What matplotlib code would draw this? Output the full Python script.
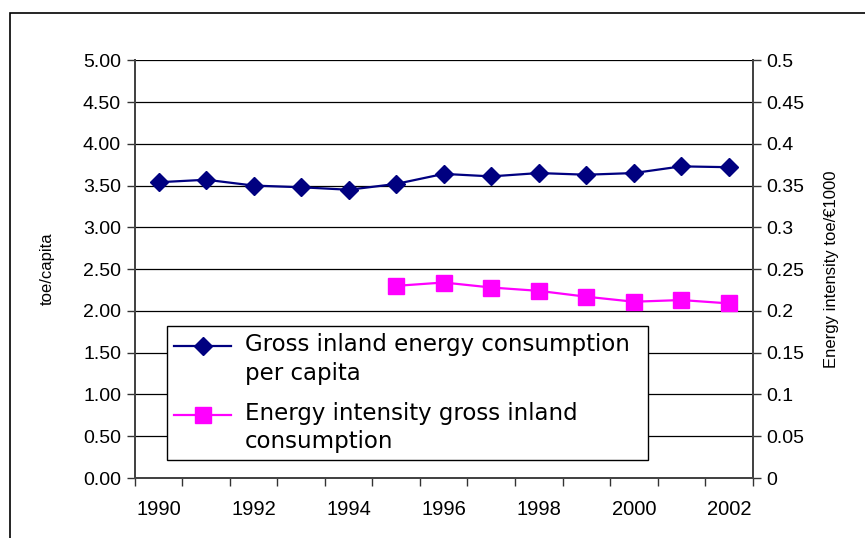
import numpy as np
import matplotlib.pyplot as plt
from matplotlib.patches import Rectangle
from matplotlib.legend_handler import HandlerLine2D

# data
years = [1990, 1991, 1992, 1993, 1994, 1995, 1996, 1997, 1998, 1999, 2000, 2001, 2002]
gross_per_capita = [3.54, 3.57, 3.50, 3.48, 3.45, 3.52, 3.64, 3.61, 3.65, 3.63, 3.65, 3.73, 3.72]
intensity = [np.nan, np.nan, np.nan, np.nan, np.nan, 0.230, 0.234, 0.228, 0.224, 0.217, 0.211, 0.213, 0.209]
year_labels = ["1990", "1992", "1994", "1996", "1998", "2000", "2002"]

plt.rcParams['font.family'] = ['Liberation Sans', 'DejaVu Sans']


class FirstLineHandler(HandlerLine2D):
    """legend handle drawn level with the first line of a two-line label"""
    def create_artists(self, legend, orig_handle, xdescent, ydescent, width, height, fontsize, trans):
        artists = super().create_artists(legend, orig_handle, xdescent, ydescent,
                                         width, height, fontsize, trans)
        for a in artists:
            a.set_ydata(np.asarray(a.get_ydata()) + 0.6 * fontsize)
        return artists


#creation of the figure
fig, ax = plt.subplots(figsize=(8.65, 5.38), dpi=100)
fig.subplots_adjust(left=0.156, right=0.870, top=0.888, bottom=0.1115)
ax2 = ax.twinx()

x = np.arange(len(years))
l1, = ax.plot(x, gross_per_capita, color="#000080", lw=1.6, marker="D", ms=9.5,
              label="Gross inland energy consumption\nper capita", zorder=5)
l2, = ax2.plot(x, intensity, color="#FF00FF", lw=1.6, marker="s", ms=11,
               label="Energy intensity gross inland\nconsumption", zorder=5)

#axes limits and ticks
ax.set_xlim(-0.5, len(years) - 0.5)
ax.set_ylim(0, 5)
ax2.set_ylim(0, 0.5)
ax.set_yticks(np.arange(0, 5.01, 0.5))
ax.set_yticklabels(["%.2f" % v for v in np.arange(0, 5.01, 0.5)])
ax2.set_yticks(np.arange(0, 0.501, 0.05))
ax2.set_yticklabels(["%g" % round(v, 2) for v in np.arange(0, 0.501, 0.05)])
ax.set_xticks(np.arange(-0.5, len(years), 1), minor=True)
ax.set_xticks(x[::2])
ax.set_xticklabels(year_labels)
ax.tick_params(axis="x", which="major", length=0, labelsize=14.5, pad=16)
ax.tick_params(axis="x", which="minor", length=6, width=1, color="#333333")
ax.tick_params(axis="y", length=6, width=1, color="#333333", labelsize=14, pad=4)
ax2.tick_params(axis="y", length=6, width=1, color="#333333", labelsize=14, pad=4)

#grid
ax.yaxis.grid(True, color="black", lw=0.9)
ax.set_axisbelow(True)

#spines
for a in (ax, ax2):
    a.spines["top"].set_visible(False)
    for s in ("left", "right", "bottom"):
        a.spines[s].set_color("#444444")
        a.spines[s].set_linewidth(1.4)

ax.set_ylabel("toe/capita", fontsize=12, labelpad=20)
ax2.set_ylabel("Energy intensity toe/\u20ac1000", fontsize=12, labelpad=14)

#legend
leg = ax.legend([l1, l2], [l1.get_label(), l2.get_label()], loc="lower left",
                bbox_to_anchor=(0.052, 0.043, 0.778, 0.316), mode="expand",
                borderaxespad=0, fancybox=False, edgecolor="black",
                prop={"family": "DejaVu Sans", "size": 16.5},
                handler_map={l1: FirstLineHandler(), l2: FirstLineHandler()},
                handlelength=2.5, handletextpad=0.6, labelspacing=0.75,
                borderpad=0.3, framealpha=1)
for t in leg.get_texts():
    t.set_linespacing(1.3)
leg.get_frame().set_linewidth(1.0)
leg.set_zorder(10)

#outer frame
fig.add_artist(Rectangle((10 / 865, -0.1), 1.2, 1 - 13 / 538 + 0.1,
                         transform=fig.transFigure, fill=False, lw=1.2, color="black"))

#save figure
plt.savefig("out.png", dpi=100)
